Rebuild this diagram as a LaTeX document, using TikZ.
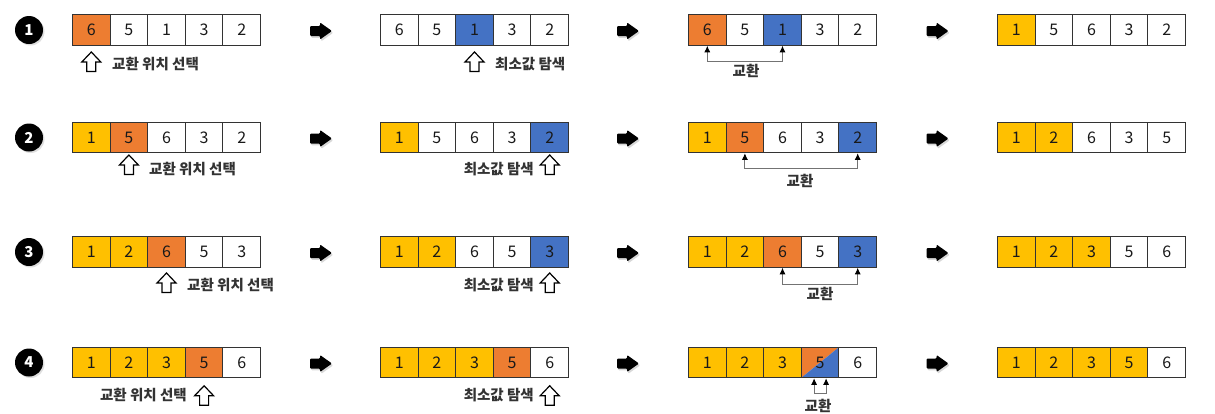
\documentclass[tikz,border=0pt]{standalone}
\usepackage{fontspec}
\setmainfont{Noto Sans CJK KR}
\usetikzlibrary{arrows.meta,shadows}
\definecolor{cO}{HTML}{ED7D31}
\definecolor{cB}{HTML}{4472C4}
\definecolor{cY}{HTML}{FFC000}
\definecolor{cLine}{HTML}{333333}
\newcommand\cellrow[4]{\foreach \v/\s [count=\i] in {#4} {\node[cell,\s] (#1c\i) at ({#2+(\i-0.5)*37.6},#3) {\v};}}
\tikzset{
  cell/.style={draw=cLine, line width=1pt, minimum width=37.6pt, minimum height=30.5pt, inner sep=0pt,
    font=\fontsize{16}{16}\selectfont, text=black!90},
  fo/.style={fill=cO}, fw/.style={fill=white}, fb/.style={fill=cB}, fy/.style={fill=cY},
  fs/.style={path picture={
    \fill[cO] (path picture bounding box.north west) -- (path picture bounding box.north east) -- (path picture bounding box.south west) -- cycle;
    \fill[cB] (path picture bounding box.north east) -- (path picture bounding box.south east) -- (path picture bounding box.south west) -- cycle;}},
  numcirc/.style={circle, fill=black, minimum size=28pt, inner sep=0pt, text=white,
    font=\fontsize{15}{15}\selectfont\bfseries, drop shadow={shadow xshift=1.5pt, shadow yshift=-1.5pt, opacity=0.25}},
  lbl/.style={inner sep=0pt, text=black!80, font=\fontsize{14.5}{15}\selectfont\bfseries},
  swap/.style={draw=black!55, line width=0.9pt, {Latex[length=6.5pt,width=6pt,black]}-{Latex[length=6.5pt,width=6pt,black]}},
  uparrow/.pic={\draw[line width=1.2pt, fill=white, line join=miter] (0,-9.75) -- (9.5,0.25) -- (4.5,0.25) -- (4.5,9.75) -- (-4.5,9.75) -- (-4.5,0.25) -- (-9.5,0.25) -- cycle;},
  blockarrow/.pic={
    \fill[black!25, opacity=0.6, rounded corners=1pt, shift={(1.2,1.8)}] (-11,-5) -- (-1,-5) -- (-1,-8.5) -- (11,0) -- (-1,8.5) -- (-1,5) -- (-11,5) -- cycle;
    \fill[black, rounded corners=1pt] (-11,-5) -- (-1,-5) -- (-1,-8.5) -- (11,0) -- (-1,8.5) -- (-1,5) -- (-11,5) -- cycle;}
}
\begin{document}
\begin{tikzpicture}[x=1pt,y=-1pt]
\useasboundingbox[fill=white] (0,0) rectangle (1215,413);
% numbered circles
\node[numcirc] (n1) at (29,30) {1};
\node[numcirc] (n2) at (29,137.5) {2};
\node[numcirc] (n3) at (29,252) {3};
\node[numcirc] (n4) at (29,362.5) {4};
% block arrows
\foreach \yy [count=\r] in {31,138.5,253,363.5}{
  \pic at (321,\yy) {blockarrow};
  \pic at (628,\yy) {blockarrow};
  \pic at (937.5,\yy) {blockarrow};
}
% row 1
\cellrow{r1g1}{72.5}{30}{6/fo,5/fw,1/fw,3/fw,2/fw}
\cellrow{r1g2}{380.5}{30}{6/fw,5/fw,1/fb,3/fw,2/fw}
\cellrow{r1g3}{688.5}{30}{6/fo,5/fw,1/fb,3/fw,2/fw}
\cellrow{r1g4}{997.5}{30}{1/fy,5/fw,6/fw,3/fw,2/fw}
% row 2
\cellrow{r2g1}{72.5}{137.5}{1/fy,5/fo,6/fw,3/fw,2/fw}
\cellrow{r2g2}{380.5}{137.5}{1/fy,5/fw,6/fw,3/fw,2/fb}
\cellrow{r2g3}{688.5}{137.5}{1/fy,5/fo,6/fw,3/fw,2/fb}
\cellrow{r2g4}{997.5}{137.5}{1/fy,2/fy,6/fw,3/fw,5/fw}
% row 3
\cellrow{r3g1}{72.5}{252}{1/fy,2/fy,6/fo,5/fw,3/fw}
\cellrow{r3g2}{380.5}{252}{1/fy,2/fy,6/fw,5/fw,3/fb}
\cellrow{r3g3}{688.5}{252}{1/fy,2/fy,6/fo,5/fw,3/fb}
\cellrow{r3g4}{997.5}{252}{1/fy,2/fy,3/fy,5/fw,6/fw}
% row 4
\cellrow{r4g1}{72.5}{362.5}{1/fy,2/fy,3/fy,5/fo,6/fw}
\cellrow{r4g2}{380.5}{362.5}{1/fy,2/fy,3/fy,5/fo,6/fw}
\cellrow{r4g3}{688.5}{362.5}{1/fy,2/fy,3/fy,5/fs,6/fw}
\cellrow{r4g4}{997.5}{362.5}{1/fy,2/fy,3/fy,5/fy,6/fw}
% hollow arrows and labels
\pic at (r1g1c1.center |- 0,61.75) {uparrow};
\node[lbl, anchor=west] (l1a) at (112,64) {교환 위치 선택};
\pic at (r1g2c3.center |- 0,61.75) {uparrow};
\node[lbl, anchor=west] (l1b) at (495,64) {최소값 탐색};
\pic at (r2g1c2.center |- 0,164.75) {uparrow};
\node[lbl, anchor=west] (l2a) at (149,169) {교환 위치 선택};
\pic at (r2g2c5.center |- 0,164.75) {uparrow};
\node[lbl, anchor=east] (l2b) at (534,169) {최소값 탐색};
\pic at (r3g1c3.center |- 0,282.75) {uparrow};
\node[lbl, anchor=west] (l3a) at (187,285.5) {교환 위치 선택};
\pic at (r3g2c5.center |- 0,282.75) {uparrow};
\node[lbl, anchor=east] (l3b) at (534,285.5) {최소값 탐색};
\pic at (r4g1c4.center |- 0,395.5) {uparrow};
\node[lbl, anchor=east] (l4a) at (187,395) {교환 위치 선택};
\pic at (r4g2c5.center |- 0,395.5) {uparrow};
\node[lbl, anchor=east] (l4b) at (534,395) {최소값 탐색};
% swap connectors
\draw[swap] (r1g3c1.south) -- ++(0,16) -| (r1g3c3.south);
\node[lbl] (s1) at (746,71) {교환};
\draw[swap] (r2g3c2.south) -- ++(0,15) -| (r2g3c5.south);
\node[lbl] (s2) at (800,181) {교환};
\draw[swap] (r3g3c3.south) -- ++(0,17) -| (r3g3c5.south);
\node[lbl] (s3) at (820,294) {교환};
\draw[swap] ([xshift=-6pt]r4g3c4.south) -- ++(0,15) -| ([xshift=6pt]r4g3c4.south);
\node[lbl] (s4) at (818,406) {교환};
\end{tikzpicture}
\end{document}
